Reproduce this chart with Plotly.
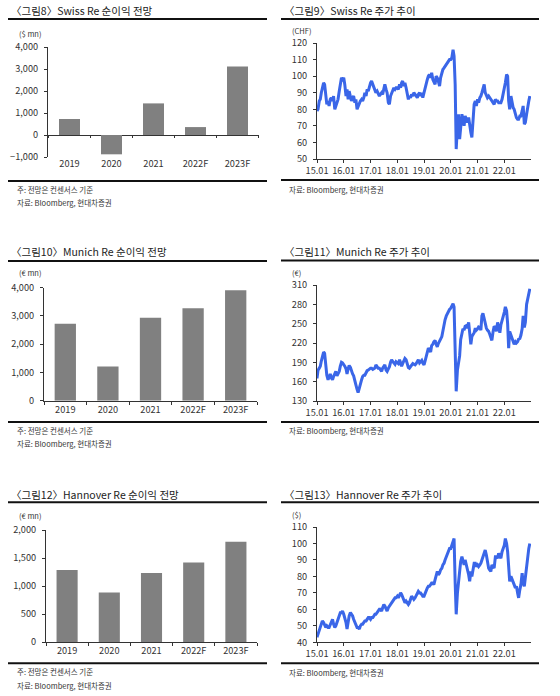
import plotly.graph_objects as go
import pandas as pd

W, H = 560, 696

# ---------------- data ----------------
categories = ["2019", "2020", "2021", "2022F", "2023F"]
swiss_net_income = [727, -878, 1437, 360, 3110]      # $ mn
munich_net_income = [2724, 1211, 2933, 3270, 3910]   # € mn
hannover_net_income = [1285, 883, 1231, 1420, 1790]  # € mn

# semi-monthly prices (1st / 15th of each month), 2015.01 - 2022.12
swiss_price = [
    79, 80, 85, 86, 90, 94, 96, 95, 86, 83, 85, 82, 86, 87, 85, 88, 80, 82, 84, 86, 91, 96, 99, 98,
    99, 95, 88, 92, 86, 91, 88, 85, 87, 88, 84, 86, 80, 82, 84, 85, 86, 85, 87, 90, 88, 92, 91, 94,
    96, 97, 95, 93, 92, 90, 91, 89, 88, 89, 90, 89, 92, 95, 92, 90, 84, 83, 88, 90, 92, 93, 92, 93,
    93, 92, 95, 93, 96, 97, 94, 96, 93, 90, 86, 88, 87, 89, 88, 90, 89, 88, 87, 89, 90, 88, 90, 87,
    90, 94, 97, 98, 100, 101, 99, 102, 98, 96, 95, 100, 99, 97, 94, 99, 102, 104, 105, 106, 107, 108, 109, 110,
    110, 111, 116, 112, 95, 56, 70, 77, 62, 72, 77, 74, 70, 76, 74, 72, 75, 70, 66, 63, 74, 83, 85, 82,
    86, 84, 87, 88, 90, 93, 95, 90, 88, 87, 88, 87, 86, 85, 84, 83, 86, 85, 85, 84, 84, 84, 86, 89,
    91, 96, 101, 100, 85, 80, 88, 84, 81, 80, 77, 75, 74, 74, 76, 76, 79, 82, 71, 72, 77, 82, 85, 88,
]
munich_price = [
    165, 178, 181, 184, 192, 201, 206, 204, 183, 170, 163, 168, 172, 166, 163, 168, 172, 176, 169, 172, 176, 184, 190, 189,
    187, 184, 180, 172, 180, 185, 182, 176, 172, 169, 163, 155, 148, 143, 150, 158, 163, 168, 170, 170, 175, 177, 178, 180,
    181, 181, 179, 180, 181, 186, 183, 181, 181, 178, 176, 181, 184, 186, 178, 176, 180, 183, 190, 194, 191, 188, 187, 191,
    189, 188, 194, 187, 184, 188, 193, 196, 194, 187, 182, 181, 184, 186, 188, 187, 186, 188, 191, 194, 189, 191, 193, 189,
    186, 192, 200, 207, 212, 210, 206, 216, 218, 222, 224, 218, 214, 219, 222, 226, 230, 240, 250, 256, 262, 266, 270, 272,
    274, 278, 281, 276, 225, 145, 178, 192, 200, 225, 236, 242, 240, 246, 247, 243, 252, 234, 218, 230, 234, 236, 243, 240,
    242, 245, 244, 240, 262, 266, 258, 250, 243, 240, 238, 234, 230, 224, 238, 246, 244, 238, 252, 246, 236, 248, 254, 262,
    268, 276, 270, 250, 212, 238, 232, 226, 222, 218, 222, 220, 222, 226, 227, 232, 242, 262, 244, 252, 280, 290, 300, 304,
]
hannover_price = [
    43, 45, 47, 49, 51, 53, 52, 50, 49, 50, 49, 49, 51, 53, 54, 51, 49, 50, 52, 53, 55, 58, 58, 59,
    57, 55, 52, 48, 53, 56, 58, 57, 56, 54, 52, 50, 49, 49, 48, 50, 51, 51, 52, 53, 53, 54, 55, 55,
    54, 55, 55, 56, 57, 57, 58, 59, 60, 60, 59, 61, 63, 62, 60, 59, 61, 62, 63, 64, 65, 66, 67, 67,
    68, 67, 69, 70, 69, 67, 65, 64, 65, 64, 63, 64, 66, 68, 67, 66, 67, 68, 70, 71, 70, 70, 69, 68,
    68, 70, 72, 73, 74, 74, 75, 76, 76, 75, 78, 81, 83, 81, 82, 84, 85, 87, 88, 90, 92, 94, 96, 97,
    97, 99, 101, 103, 76, 57, 70, 77, 84, 89, 92, 89, 87, 90, 87, 84, 81, 77, 83, 80, 85, 88, 88, 86,
    87, 86, 87, 88, 90, 92, 94, 96, 93, 89, 85, 84, 83, 87, 86, 85, 92, 92, 91, 94, 92, 91, 95, 97,
    99, 103, 100, 95, 82, 77, 80, 78, 76, 75, 73, 74, 70, 67, 72, 75, 82, 76, 74, 80, 88, 93, 97, 100,
]
dates = pd.date_range("2015-01-01", periods=len(swiss_price), freq="SMS")

titles = [
    "〈그림8〉Swiss Re 순이익 전망",
    "〈그림9〉Swiss Re 주가 추이",
    "〈그림10〉Munich Re 순이익 전망",
    "〈그림11〉Munich Re 주가 추이",
    "〈그림12〉Hannover Re 순이익 전망",
    "〈그림13〉Hannover Re 주가 추이",
]
units = ["($ mn)", "(CHF)", "(€ mn)", "(€)", "(€ mn)", "($)"]
note_text = "주: 전망은 컨센서스 기준"
source_text = "자료: Bloomberg, 현대차증권"

# ---------------- style ----------------
FONT = "Noto Sans CJK KR"
BAR_COLOR = "#808080"
LINE_COLOR = "#3a66e8"
AX_COLOR = "#333333"
TICK_FONT = dict(family=FONT, size=9.2, color="#333333")


def px(x):
    return x / W


def py(y):
    return 1 - y / H


fig = go.Figure()
layout = dict(
    width=W, height=H, margin=dict(l=0, r=0, t=0, b=0, pad=0, autoexpand=False),
    paper_bgcolor="white", plot_bgcolor="white", showlegend=False,
    font=dict(family=FONT, color="#222"),
)

bar_panels = [
    (1, 48, 259, 47, 157, [-1000, 4000], 1000, swiss_net_income),
    (3, 44, 257, 287.7, 400.7, [0, 4000], 1000, munich_net_income),
    (5, 46, 257, 530, 642, [0, 2000], 500, hannover_net_income),
]
line_panels = [
    (2, 317, 531, 43, 159, [50, 120], 10, swiss_price),
    (4, 317, 531, 285, 401, [130, 310], 30, munich_price),
    (6, 317, 531, 527, 642.3, [40, 110], 10, hannover_price),
]

shapes = []
annotations = []

for n, x0, x1, yt, yb, rng, dt, vals in bar_panels:
    xa = "xaxis" if n == 1 else f"xaxis{n}"
    ya = "yaxis" if n == 1 else f"yaxis{n}"
    xr = "x" if n == 1 else f"x{n}"
    yr = "y" if n == 1 else f"y{n}"
    has_neg = rng[0] < 0
    layout[xa] = dict(
        domain=[px(x0), px(x1)], anchor=yr, type="category", automargin=False,
        showline=not has_neg, linecolor=AX_COLOR, linewidth=1,
        ticks="" if has_neg else "outside", tickson="boundaries", ticklen=3,
        tickcolor=AX_COLOR, tickfont=TICK_FONT, showgrid=False, zeroline=False,
    )
    layout[ya] = dict(
        domain=[py(yb), py(yt)], anchor=xr, range=rng, tick0=rng[0], dtick=dt,
        automargin=False, tickformat=",", showline=True, linecolor=AX_COLOR, linewidth=1,
        ticks="outside", ticklen=3, tickcolor=AX_COLOR, tickfont=TICK_FONT,
        showgrid=False, zeroline=has_neg, zerolinecolor=AX_COLOR, zerolinewidth=1,
        ticklabelstandoff=4,
    )
    fig.add_trace(go.Bar(x=categories, y=vals, xaxis=xr, yaxis=yr,
                         marker=dict(color=BAR_COLOR, line=dict(width=0)),
                         width=0.5, hoverinfo="x+y"))
    if has_neg:
        for i in range(len(categories) + 1):
            shapes.append(dict(type="line", xref=xr, yref=yr, x0=i - 0.5, x1=i - 0.5,
                               ysizemode="pixel", yanchor=0, y0=0, y1=-3,
                               line=dict(color=AX_COLOR, width=1)))

for n, x0, x1, yt, yb, rng, dt, vals in line_panels:
    xa = f"xaxis{n}"
    ya = f"yaxis{n}"
    xr = f"x{n}"
    yr = f"y{n}"
    layout[xa] = dict(
        domain=[px(x0), px(x1)], anchor=yr, type="date", automargin=False,
        range=["2015-01-01", "2022-12-31"], tick0="2015-01-01", dtick="M12",
        tickformat="%y.%m", showline=True, linecolor=AX_COLOR, linewidth=1,
        ticks="outside", ticklen=3, tickcolor=AX_COLOR, tickfont=TICK_FONT,
        showgrid=False, zeroline=False,
    )
    layout[ya] = dict(
        domain=[py(yb), py(yt)], anchor=xr, range=rng, tick0=rng[0], dtick=dt,
        automargin=False, showline=True, linecolor=AX_COLOR, linewidth=1,
        ticks="outside", ticklen=3, tickcolor=AX_COLOR, tickfont=TICK_FONT,
        showgrid=False, zeroline=False, ticklabelstandoff=4,
    )
    fig.add_trace(go.Scatter(x=dates, y=vals, xaxis=xr, yaxis=yr, mode="lines",
                             line=dict(color=LINE_COLOR, width=3)))

panels_text = [
    # title x, title y, rule x0, rule x1, top rule y, bottom rule y, unit x, unit y, note y, source y, text x
    (8.5, 11, 8, 267, 19, 181, 17, 33, 190, 202, 15),
    (281.5, 11, 281, 539, 19, 180, 290, 30.5, None, 190, 287),
    (8.5, 252, 8, 267, 261, 422, 17, 272, 430, 443, 15),
    (281.5, 252, 281, 539, 260.5, 422, 290, 272, None, 431, 287),
    (8.5, 494, 8, 267, 502.3, 663.3, 17, 515, 671, 685, 15),
    (281.5, 494, 281, 539, 502.3, 663.3, 290, 514, None, 672, 287),
]
for i, (tx, ty, rx0, rx1, ryt, ryb, ux, uy, ny, sy, sx) in enumerate(panels_text):
    annotations.append(dict(text=titles[i], x=px(tx), y=py(ty), xref="paper", yref="paper",
                            xanchor="left", yanchor="middle", showarrow=False,
                            font=dict(family=FONT, size=10.5, color="#222")))
    annotations.append(dict(text=units[i], x=px(ux), y=py(uy), xref="paper", yref="paper",
                            xanchor="left", yanchor="middle", showarrow=False,
                            font=dict(family=FONT, size=7.5, color="#333")))
    if ny is not None:
        annotations.append(dict(text=note_text, x=px(sx), y=py(ny), xref="paper", yref="paper",
                                xanchor="left", yanchor="middle", showarrow=False,
                                font=dict(family=FONT, size=7.5, color="#333")))
    annotations.append(dict(text=source_text, x=px(sx), y=py(sy), xref="paper", yref="paper",
                            xanchor="left", yanchor="middle", showarrow=False,
                            font=dict(family=FONT, size=7.5, color="#333")))
    for ry in (ryt, ryb):
        shapes.append(dict(type="line", xref="paper", yref="paper",
                           x0=px(rx0), x1=px(rx1), y0=py(ry), y1=py(ry),
                           line=dict(color="#111", width=2)))

layout["shapes"] = shapes
layout["annotations"] = annotations
fig.update_layout(**layout)
fig.write_html(
    "out.html",
    config={"displayModeBar": False},
    post_script="document.body.style.margin='0';document.body.style.overflow='hidden';",
)
